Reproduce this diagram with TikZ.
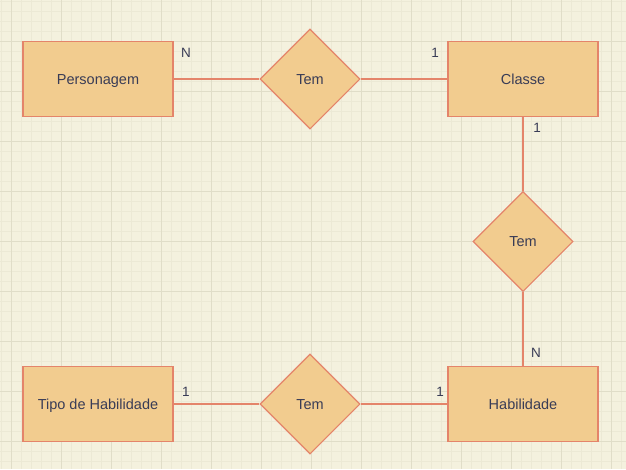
\documentclass[tikz,border=0pt]{standalone}
\usepackage{fontspec}
\setmainfont{Liberation Sans}
\usetikzlibrary{shapes.geometric}
\definecolor{bg}{HTML}{F4F1DE}
\definecolor{gminor}{HTML}{ECE9D5}
\definecolor{gmajor}{HTML}{E0DDC8}
\definecolor{efill}{HTML}{F2CC8F}
\definecolor{estroke}{HTML}{E4846A}
\definecolor{etext}{HTML}{393C56}
\tikzset{
  entity/.style={draw=estroke, fill=efill, line width=1.1pt, minimum width=150pt, minimum height=75pt, inner sep=0pt, text=etext, text height=11pt, text depth=1pt, font=\fontsize{14.5}{16}\selectfont},
  rel/.style={diamond, draw=estroke, fill=efill, line width=1.1pt, minimum width=100pt, minimum height=100pt, inner sep=0pt, text=etext, text height=11pt, text depth=1pt, font=\fontsize{14.5}{16}\selectfont},
  link/.style={draw=estroke, line width=1.1pt},
  card/.style={text=etext, font=\fontsize{13.5}{15}\selectfont, inner sep=0pt}
}
\begin{document}
\begin{tikzpicture}[x=1pt,y=-1pt]
\useasboundingbox (0,0) rectangle (626,469);
\fill[bg] (0,0) rectangle (626,469);
\foreach \i in {0,...,62} {\draw[gminor, line width=0.6pt] ({1+10*\i},0) -- ({1+10*\i},469);}
\foreach \j in {0,...,46} {\draw[gminor, line width=0.6pt] (0,{1.7+10*\j}) -- (626,{1.7+10*\j});}
\foreach \i in {0,...,12} {\draw[gmajor, line width=0.8pt] ({11+50*\i},0) -- ({11+50*\i},469);}
\foreach \j in {-1,...,8} {\draw[gmajor, line width=0.8pt] (0,{41.7+50*\j}) -- (626,{41.7+50*\j});}

\node[entity] (pers) at (98,79) {Personagem};
\node[entity] (classe) at (523,79) {Classe};
\node[entity] (hab) at (523,404) {Habilidade};
\node[entity] (tipo) at (98,404) {Tipo de Habilidade};
\node[rel] (r1) at (310,79) {Tem};
\node[rel] (r2) at (523,241.5) {Tem};
\node[rel] (r3) at (310,404) {Tem};

\draw[link] (pers.east) -- (r1.west);
\draw[link] (r1.east) -- (classe.west);
\draw[link] (classe.south) -- (r2.north);
\draw[link] (r2.south) -- (hab.north);
\draw[link] (tipo.east) -- (r3.west);
\draw[link] (r3.east) -- (hab.west);

\node[card] (c1) at (186,53) {N};
\node[card] (c2) at (435,53) {1};
\node[card] (c3) at (537,128) {1};
\node[card] (c4) at (536,353) {N};
\node[card] (c5) at (186,392) {1};
\node[card] (c6) at (440,392) {1};
\end{tikzpicture}
\end{document}
